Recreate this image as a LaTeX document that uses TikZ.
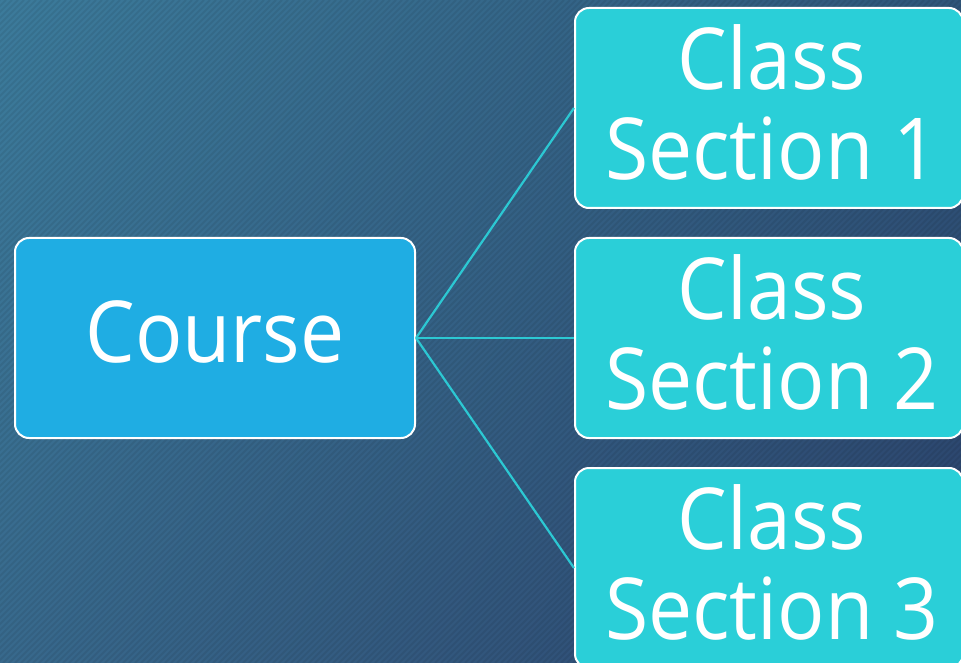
\documentclass[tikz,border=0pt]{standalone}
\usepackage{fontspec}
\usetikzlibrary{shadings}
\setmainfont{Open Sans}[FakeStretch=0.92]
\definecolor{bgA}{HTML}{3C7B9B}
\definecolor{bgB}{HTML}{2F5579}
\definecolor{bgC}{HTML}{38698C}
\definecolor{bgD}{HTML}{2C426B}
\definecolor{coursefill}{HTML}{1FADE3}
\definecolor{classfill}{HTML}{2ACFD8}
\definecolor{linkcol}{HTML}{2CC8D3}
\tikzset{
  boxbase/.style={draw=white, line width=2pt, rounded corners=14pt, minimum width=400pt, minimum height=200pt, inner sep=0pt},
  boxtext/.style={text=white, align=center, font=\fontsize{85.5}{90}\selectfont, inner sep=0pt},
  coursebox/.style={boxbase, fill=coursefill},
  classbox/.style={boxbase, fill=classfill, minimum width=388pt},
  link/.style={draw=linkcol, line width=2.2pt}
}
\begin{document}
\begin{tikzpicture}[x=1pt,y=-1pt]
\useasboundingbox (0,0) rectangle (961,663);
\begin{scope}
\clip (0,0) rectangle (961,663);
\shade[upper left=bgA, upper right=bgB, lower left=bgC, lower right=bgD] (0,0) rectangle (961,663);
\foreach \k in {0,6,...,1630} {
  \draw[black, opacity=0.07, line width=2pt] (\k-663,663) -- (\k,0);
}
\node[coursebox, label={[boxtext, yshift=6pt]center:Course}] (course) at (215,338) {};
\node[classbox, label={[boxtext, yshift=6pt, xshift=3pt]center:Class\\Section 1}] (c1) at (769,108) {};
\node[classbox, label={[boxtext, yshift=6pt, xshift=3pt]center:Class\\Section 2}] (c2) at (769,338) {};
\node[classbox, label={[boxtext, yshift=6pt, xshift=3pt]center:Class\\Section 3}] (c3) at (769,568) {};
\draw[link] (course.east) -- (c1.west);
\draw[link] (course.east) -- (c2.west);
\draw[link] (course.east) -- (c3.west);
\end{scope}
\end{tikzpicture}
\end{document}
